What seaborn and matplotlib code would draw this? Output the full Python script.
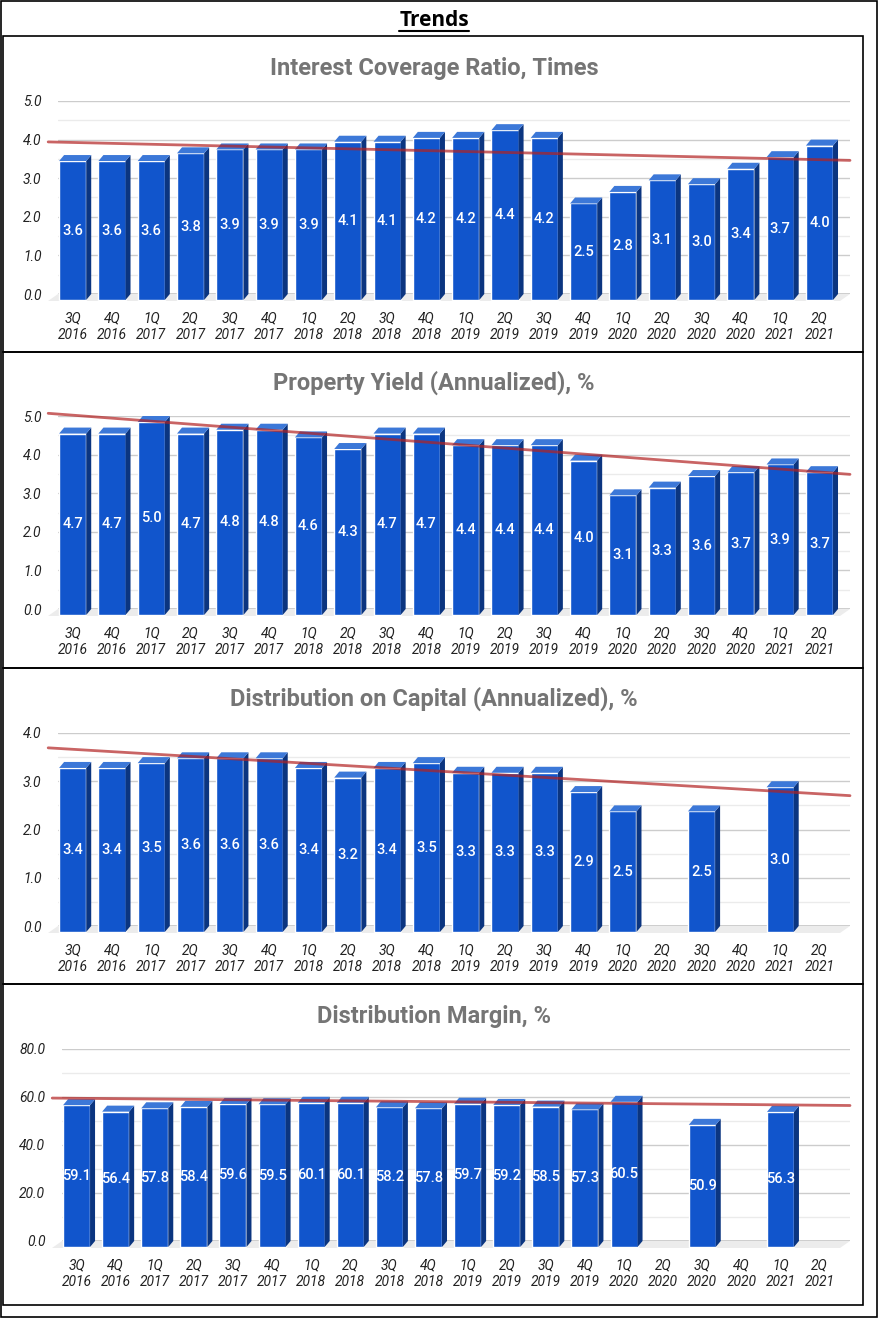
import numpy as np
import pandas as pd
import seaborn as sns
import matplotlib.pyplot as plt
from matplotlib.patches import Rectangle, Polygon
from matplotlib.transforms import ScaledTranslation, IdentityTransform
from matplotlib.lines import Line2D

nan = np.nan

# data
quarters = ['3Q\n2016', '4Q\n2016', '1Q\n2017', '2Q\n2017', '3Q\n2017', '4Q\n2017',
            '1Q\n2018', '2Q\n2018', '3Q\n2018', '4Q\n2018', '1Q\n2019', '2Q\n2019',
            '3Q\n2019', '4Q\n2019', '1Q\n2020', '2Q\n2020', '3Q\n2020', '4Q\n2020',
            '1Q\n2021', '2Q\n2021']
interest_coverage = [3.6, 3.6, 3.6, 3.8, 3.9, 3.9, 3.9, 4.1, 4.1, 4.2,
                     4.2, 4.4, 4.2, 2.5, 2.8, 3.1, 3.0, 3.4, 3.7, 4.0]
property_yield = [4.7, 4.7, 5.0, 4.7, 4.8, 4.8, 4.6, 4.3, 4.7, 4.7,
                  4.4, 4.4, 4.4, 4.0, 3.1, 3.3, 3.6, 3.7, 3.9, 3.7]
dist_on_capital = [3.4, 3.4, 3.5, 3.6, 3.6, 3.6, 3.4, 3.2, 3.4, 3.5,
                   3.3, 3.3, 3.3, 2.9, 2.5, nan, 2.5, nan, 3.0, nan]
dist_margin = [59.1, 56.4, 57.8, 58.4, 59.6, 59.5, 60.1, 60.1, 58.2, 57.8,
               59.7, 59.2, 58.5, 57.3, 60.5, nan, 50.9, nan, 56.3, nan]

titles = ['Interest Coverage Ratio, Times', 'Property Yield (Annualized), %',
          'Distribution on Capital (Annualized), %', 'Distribution Margin, %']

FRONT = '#1155cc'
SIDE = '#0b3580'
TOP = '#3c78d8'
TREND = '#b22222'

W, H = 882, 1320
DPI = 100

sns.set_theme(style='white')
plt.rcParams['font.family'] = ['Roboto', 'DejaVu Sans']

fig = plt.figure(figsize=(W / DPI, H / DPI), dpi=DPI)


def fx(px):
    return px / W


def fy(py):
    return 1 - py / H


# frames
fig.patches.append(Rectangle((fx(1), fy(1317)), fx(876), (1316) / H, transform=fig.transFigure,
                             fill=False, ec='black', lw=1.2))
box_edges = [36, 352, 668, 984, 1305]
for top, bot in zip(box_edges[:-1], box_edges[1:]):
    fig.patches.append(Rectangle((fx(3), fy(bot)), fx(860), (bot - top) / H,
                                 transform=fig.transFigure, fill=False, ec='black', lw=1.2))

t = fig.text(fx(434), fy(20), 'Trends', ha='center', va='center', fontsize=15,
             fontweight='bold', family=['Open Sans', 'DejaVu Sans'], color='black')
fig.canvas.draw()
bb = t.get_window_extent()
fig.lines.append(Line2D([bb.x0 / W, bb.x1 / W], [fy(31), fy(31)], transform=fig.transFigure,
                        color='black', lw=1.5))

# panel layout in pixels: (values, yticks, minor step, left, top, bottom, title_y)
panels = [
    (interest_coverage, [0, 1, 2, 3, 4, 5], 0.5, 58, 101, 294, 68),
    (property_yield, [0, 1, 2, 3, 4, 5], 0.5, 58, 416, 609, 383),
    (dist_on_capital, [0, 1, 2, 3, 4], 0.5, 58, 733, 926, 699),
    (dist_margin, [0, 20, 40, 60, 80], 10, 62, 1049, 1241, 1016),
]

DX, DY = -5, -6  # 3d depth offset, pixels
shift = ScaledTranslation(DX / DPI, DY / DPI, fig.dpi_scale_trans)

for (vals, yt, minor, left, top, bot, ty), title in zip(panels, titles):
    ax = fig.add_axes([fx(left), fy(bot), fx(850 - left), (bot - top) / H])
    df = pd.DataFrame({'quarter': quarters, 'value': vals})
    sns.barplot(data=df, x='quarter', y='value', order=quarters, color=FRONT,
                saturation=1, width=0.69, errorbar=None, ax=ax, zorder=3)
    bars = [p for p in ax.patches if isinstance(p, Rectangle)]
    ax.set_xlim(-0.5, 19.65)
    ax.set_ylim(yt[0], yt[-1])
    ax.set_yticks(yt)
    ax.set_yticks(np.arange(yt[0], yt[-1] + minor / 2, minor), minor=True)
    ax.set_yticklabels([f'{v:.1f}' for v in yt], fontstyle='italic', fontsize=10, color='#222222')
    ax.grid(axis='y', which='major', color='#cccccc', lw=1)
    ax.grid(axis='y', which='minor', color='#ebebeb', lw=1)
    ax.set_axisbelow(True)
    ax.tick_params(axis='y', which='both', length=0, pad=12)
    ax.tick_params(axis='x', length=0, pad=8)
    ax.set_xticks(range(len(quarters)))
    ax.set_xticklabels(quarters, fontstyle='italic', fontsize=10, color='#222222', linespacing=1.3)
    for lab in ax.get_xticklabels():
        lab.set_transform(lab.get_transform() + shift)
    ax.set_xlabel('')
    ax.set_ylabel('')
    for s in ax.spines.values():
        s.set_visible(False)

    # floor and axis line
    x0d, y0d = ax.transData.transform((ax.get_xlim()[0], 0))
    x1d, _ = ax.transData.transform((ax.get_xlim()[1], 0))
    ax.add_patch(Polygon([(x0d, y0d), (x1d, y0d), (x1d - 10, y0d - 7), (x0d - 10, y0d - 7)],
                         closed=True, transform=IdentityTransform(), fc='#ececec', ec='none',
                         zorder=1, clip_on=False))
    ax.axhline(0, color='#333333', lw=1, zorder=1.5)

    # 3d faces
    for p in bars:
        h = p.get_height()
        if np.isnan(h):
            continue
        xb = p.get_x()
        w = p.get_width()
        (blx, bly) = ax.transData.transform((xb, 0))
        (trx, try_) = ax.transData.transform((xb + w, h))
        side = Polygon([(trx + DX, bly + DY), (trx + DX, try_ + DY), (trx, try_), (trx, bly)],
                       closed=True, transform=IdentityTransform(), fc=SIDE, ec='none',
                       zorder=3, clip_on=False)
        topf = Polygon([(blx + DX, try_ + DY), (trx + DX, try_ + DY), (trx, try_), (blx, try_)],
                       closed=True, transform=IdentityTransform(), fc=TOP, ec='none',
                       zorder=3, clip_on=False)
        p.set_transform(ax.transData + shift)
        p.set_clip_on(False)
        ax.add_patch(side)
        ax.add_patch(topf)
        ax.text(xb + w / 2, h / 2, f'{h:.1f}', transform=ax.transData + shift,
                ha='center', va='center', color='white', fontsize=10.5, fontweight='medium',
                zorder=4)

    # linear trend line
    arr = np.array(vals, dtype=float)
    idx = np.arange(len(arr))
    m = ~np.isnan(arr)
    coef = np.polyfit(idx[m], arr[m], 1)
    xs = np.array([-0.75, 19.65])
    ax.plot(xs, np.polyval(coef, xs), color=TREND, lw=2, alpha=0.7, zorder=5, clip_on=False)

    fig.text(fx(434), fy(ty), title, ha='center', va='center', fontsize=17,
             fontweight='bold', color='#757575')

fig.savefig('out.png', dpi=DPI)
